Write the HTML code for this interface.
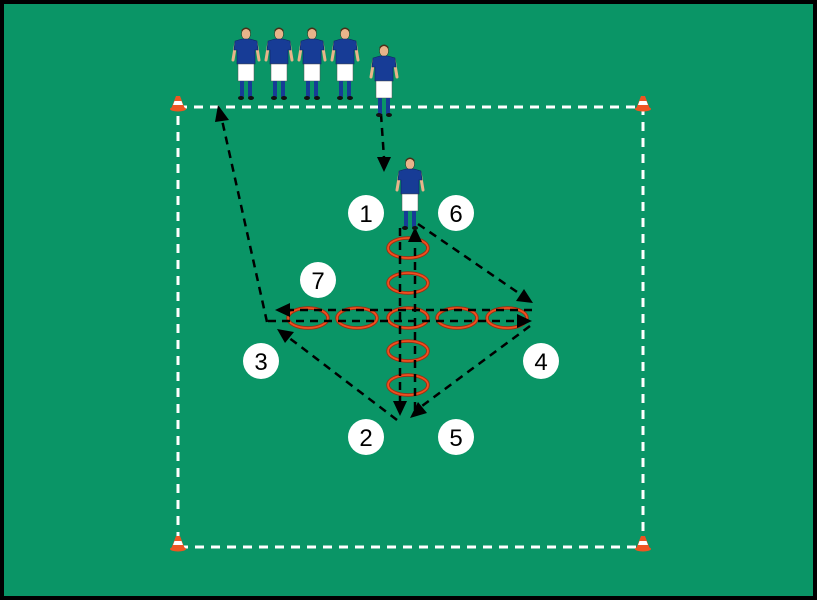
<!DOCTYPE html>
<html><head><meta charset="utf-8"><style>
html,body{margin:0;padding:0;background:#000}
svg{display:block}
</style></head><body>
<svg width="817" height="600" viewBox="0 0 817 600" xmlns="http://www.w3.org/2000/svg">
<defs>
<g id="pl">
  <ellipse cx="0" cy="8" rx="4.5" ry="5.5" fill="#e8b48a" stroke="#3a2a1a" stroke-width="0.5"/>
  <path d="M-4.5,6 Q0,0 4.5,6 L4.5,4 Q0,-1 -4.5,4Z" fill="#4a2e18"/>
  <path d="M-10,16 L-13,34" stroke="#e8b48a" stroke-width="3" stroke-linecap="round"/>
  <path d="M10,16 L13,34" stroke="#e8b48a" stroke-width="3" stroke-linecap="round"/>
  <path d="M-11,15 L-4,13 L4,13 L11,15 L12,24 L9,24 L9,38 L-9,38 L-9,24 L-12,24Z" fill="#173c96" stroke="#0d2460" stroke-width="0.6"/>
  <rect x="-8" y="38" width="16" height="17" fill="#fff" stroke="#555" stroke-width="0.5"/>
  <rect x="-6" y="55" width="4" height="16" fill="#173c96"/>
  <rect x="2" y="55" width="4" height="16" fill="#173c96"/>
  <ellipse cx="-5" cy="72" rx="3" ry="2" fill="#111"/>
  <ellipse cx="5" cy="72" rx="3" ry="2" fill="#111"/>
</g>
<g id="cone">
  <path d="M-2,-9 L2,-9 L7,4 L-7,4Z" fill="#ee5522"/>
  <path d="M-3.5,-4 L3.5,-4 L5,0 L-5,0Z" fill="#fff"/>
  <ellipse cx="0" cy="4" rx="8" ry="2.5" fill="#ee5522"/>
</g>
</defs>
<rect x="4" y="4" width="809" height="592" fill="#0a9566"/>
<rect x="178" y="107" width="465" height="440" fill="none" stroke="#fff" stroke-width="3" stroke-dasharray="9,7"/>
<use href="#cone" x="178" y="105"/>
<use href="#cone" x="643" y="105"/>
<use href="#cone" x="178" y="545"/>
<use href="#cone" x="643" y="545"/>
<g fill="none" stroke="#a02a10" stroke-width="3.5">
<ellipse cx="308" cy="318" rx="20" ry="10"/>
<ellipse cx="357" cy="318" rx="20" ry="10"/>
<ellipse cx="408" cy="318" rx="20" ry="10"/>
<ellipse cx="457" cy="318" rx="20" ry="10"/>
<ellipse cx="507" cy="318" rx="20" ry="10"/>
<ellipse cx="408" cy="248" rx="20" ry="10"/>
<ellipse cx="408" cy="283" rx="20" ry="10"/>
<ellipse cx="408" cy="351" rx="20" ry="10"/>
<ellipse cx="408" cy="385" rx="20" ry="10"/>
</g>
<g fill="none" stroke="#f05020" stroke-width="1.8">
<ellipse cx="308" cy="318" rx="20" ry="10"/>
<ellipse cx="357" cy="318" rx="20" ry="10"/>
<ellipse cx="408" cy="318" rx="20" ry="10"/>
<ellipse cx="457" cy="318" rx="20" ry="10"/>
<ellipse cx="507" cy="318" rx="20" ry="10"/>
<ellipse cx="408" cy="248" rx="20" ry="10"/>
<ellipse cx="408" cy="283" rx="20" ry="10"/>
<ellipse cx="408" cy="351" rx="20" ry="10"/>
<ellipse cx="408" cy="385" rx="20" ry="10"/>
</g>
<g stroke="#000" stroke-width="2.5" stroke-dasharray="8,6" fill="none">
<line x1="381" y1="114" x2="384" y2="158"/>
<line x1="400" y1="228" x2="400" y2="403"/>
<line x1="415" y1="410" x2="415" y2="242"/>
<line x1="418" y1="224" x2="520" y2="294"/>
<line x1="532" y1="310" x2="290" y2="310"/>
<line x1="268" y1="321" x2="518" y2="321"/>
<line x1="530" y1="326" x2="422" y2="406"/>
<line x1="397" y1="420" x2="288" y2="337"/>
<line x1="267" y1="322" x2="222" y2="120"/>
</g>
<g fill="#000">
<polygon points="384,172 377,157 391,157"/>
<polygon points="400,416 393,401 407,401"/>
<polygon points="415,227 408,242 422,242"/>
<polygon points="533,303 516,301 524,289"/>
<polygon points="275,310 290,303 290,317"/>
<polygon points="532,321 517,314 517,328"/>
<polygon points="410,418 418,402 427,413"/>
<polygon points="277,329 294,332 285,343"/>
<polygon points="218,105 215,122 229,120"/>
</g>
<g font-family="Liberation Sans, sans-serif" font-size="24" text-anchor="middle">
<g fill="#fff"><circle cx="366" cy="213" r="18"/><circle cx="456" cy="213" r="18"/><circle cx="318" cy="280" r="18"/><circle cx="261" cy="361" r="18"/><circle cx="541" cy="361" r="18"/><circle cx="366" cy="437" r="18"/><circle cx="456" cy="437" r="18"/></g>
<text x="366" y="222">1</text><text x="456" y="222">6</text><text x="318" y="289">7</text><text x="261" y="370">3</text><text x="541" y="370">4</text><text x="366" y="446">2</text><text x="456" y="446">5</text>
</g>
<use href="#pl" x="246" y="26"/>
<use href="#pl" x="279" y="26"/>
<use href="#pl" x="312" y="26"/>
<use href="#pl" x="345" y="26"/>
<use href="#pl" x="384" y="43"/>
<use href="#pl" x="410" y="156"/>
</svg>
</body></html>
